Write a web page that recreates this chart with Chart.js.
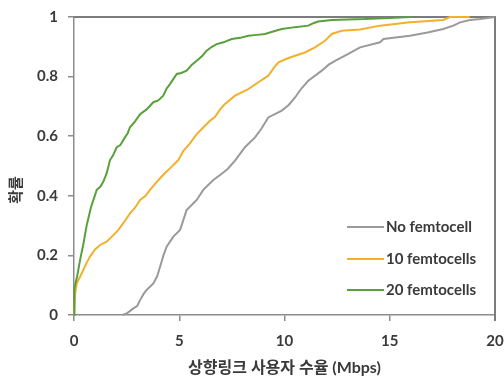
<!DOCTYPE html>
<html>
<head>
<meta charset="utf-8">
<script src="https://cdn.jsdelivr.net/npm/chart.js@4/dist/chart.umd.min.js"></script>
<style>
  html, body { margin: 0; padding: 0; background: #ffffff; }
  #wrap { width: 504px; height: 382px; position: relative; }
</style>
</head>
<body>
<div id="wrap"><canvas id="c"></canvas></div>
<script>
// ---- data ----
const seriesLabels = ['No femtocell', '10 femtocells', '20 femtocells'];
const seriesColors = ['#9a9a9a', '#f2b02c', '#58a03c'];

const noFemtoX = [2.3, 2.5, 2.82, 3.0, 3.14, 3.3, 3.45, 3.77, 3.95, 4.09, 4.25, 4.4, 4.72, 5.04, 5.2, 5.35, 5.6, 5.83, 6.14, 6.62, 6.94, 7.3, 7.65, 8.12, 8.6, 8.9, 9.23, 9.87, 10.2, 10.5, 10.8, 11.13, 11.77, 12.1, 12.4, 13.03, 13.59, 14.54, 14.7, 15.96, 16.8, 17.54, 18.02, 18.34, 18.81, 19.3, 20.0];
const noFemtoY = [0, 0.005, 0.022, 0.03, 0.05, 0.07, 0.084, 0.106, 0.13, 0.162, 0.2, 0.229, 0.263, 0.285, 0.32, 0.352, 0.37, 0.386, 0.42, 0.453, 0.47, 0.49, 0.518, 0.563, 0.596, 0.625, 0.663, 0.686, 0.705, 0.73, 0.76, 0.786, 0.82, 0.84, 0.853, 0.876, 0.898, 0.915, 0.926, 0.937, 0.948, 0.96, 0.971, 0.982, 0.99, 0.993, 1.0];

const femto10X = [0, 0.05, 0.13, 0.3, 0.44, 0.6, 0.76, 1.0, 1.24, 1.55, 1.87, 2.1, 2.34, 2.66, 2.9, 3.14, 3.4, 3.61, 3.85, 4.09, 4.3, 4.56, 4.96, 5.19, 5.5, 5.83, 6.15, 6.46, 6.7, 6.94, 7.17, 7.65, 8.28, 8.76, 9.23, 9.5, 9.71, 10.1, 10.5, 10.97, 11.45, 11.92, 12.24, 12.72, 13.59, 14.54, 15.96, 17.54, 17.86, 18.8];
const femto10Y = [0, 0.07, 0.106, 0.13, 0.151, 0.175, 0.196, 0.22, 0.235, 0.246, 0.268, 0.285, 0.308, 0.341, 0.36, 0.386, 0.40, 0.42, 0.44, 0.459, 0.475, 0.492, 0.52, 0.55, 0.575, 0.607, 0.63, 0.652, 0.665, 0.69, 0.708, 0.736, 0.758, 0.781, 0.803, 0.83, 0.848, 0.86, 0.87, 0.881, 0.898, 0.92, 0.943, 0.954, 0.958, 0.971, 0.982, 0.99, 1.0, 1.0];

const femto20X = [0, 0.02, 0.15, 0.29, 0.45, 0.6, 0.8, 1.08, 1.25, 1.39, 1.55, 1.71, 1.85, 2.03, 2.2, 2.42, 2.55, 2.66, 2.9, 3.14, 3.45, 3.77, 4.0, 4.24, 4.4, 4.56, 4.88, 5.1, 5.35, 5.6, 5.83, 6.1, 6.3, 6.55, 6.78, 7.1, 7.49, 7.9, 8.28, 8.7, 9.07, 9.5, 9.87, 10.5, 11.13, 11.4, 11.6, 12.24, 13.0, 13.8, 15.0, 16.0];
const femto20Y = [0, 0.09, 0.13, 0.185, 0.24, 0.30, 0.36, 0.42, 0.43, 0.447, 0.475, 0.52, 0.535, 0.563, 0.57, 0.596, 0.61, 0.63, 0.65, 0.674, 0.69, 0.714, 0.72, 0.736, 0.76, 0.775, 0.809, 0.812, 0.82, 0.84, 0.853, 0.87, 0.887, 0.9, 0.909, 0.915, 0.926, 0.93, 0.937, 0.94, 0.943, 0.952, 0.96, 0.966, 0.971, 0.98, 0.985, 0.99, 0.992, 0.993, 0.997, 1.0];

const xTicks = [0, 5, 10, 15, 20];
const yTicks = [0, 0.2, 0.4, 0.6, 0.8, 1];
const yTickLabels = ['0', '0.2', '0.4', '0.6', '0.8', '1'];
const xTitle = '상향링크 사용자 수율 (Mbps)';
const yTitle = '확률';

// ---- build ----
function pts(xs, ys) { return xs.map((x, i) => ({ x: x, y: ys[i] })); }
const allX = [noFemtoX, femto10X, femto20X];
const allY = [noFemtoY, femto10Y, femto20Y];

const datasets = seriesLabels.map((lab, i) => ({
  label: lab,
  data: pts(allX[i], allY[i]),
  borderColor: seriesColors[i],
  backgroundColor: seriesColors[i],
  borderWidth: 2,
  pointRadius: 0,
  tension: 0,
  fill: false,
  clip: false
}));
datasets.reverse();

const tickFont = { family: 'Lato, "Liberation Sans", sans-serif', size: 15, weight: 'bold' };
const textColor = '#3a3a3a';

const framePlugin = {
  id: 'frame',
  beforeDatasetsDraw(chart) {
    const { ctx, chartArea: a } = chart;
    ctx.save();
    ctx.strokeStyle = '#7c7c7c';
    ctx.lineWidth = 2;
    ctx.beginPath();
    ctx.moveTo(a.left, a.top);
    ctx.lineTo(a.right, a.top);
    ctx.lineTo(a.right, a.bottom + 6);
    ctx.stroke();
    ctx.restore();
  },
  afterDraw(chart) {
    const { ctx } = chart;
    ctx.save();
    ctx.translate(15, 190);
    ctx.rotate(-Math.PI / 2);
    ctx.font = 'bold 15px "Noto Sans CJK KR", sans-serif';
    ctx.fillStyle = textColor;
    ctx.textAlign = 'center';
    ctx.textBaseline = 'middle';
    ctx.fillText(yTitle, 0, 0);
    ctx.restore();

    ctx.save();
    ctx.font = 'bold 15px Lato, sans-serif';
    ctx.textBaseline = 'middle';
    ctx.textAlign = 'left';
    const rows = [227, 259, 290];
    seriesLabels.forEach((lab, i) => {
      const y = rows[i];
      ctx.strokeStyle = seriesColors[i];
      ctx.lineWidth = 2;
      ctx.beginPath();
      ctx.moveTo(347, y);
      ctx.lineTo(384, y);
      ctx.stroke();
      ctx.fillStyle = textColor;
      ctx.fillText(lab, 386, y);
    });
    ctx.restore();
  }
};

new Chart(document.getElementById('c'), {
  type: 'line',
  data: { datasets: datasets },
  plugins: [framePlugin],
  options: {
    responsive: true,
    maintainAspectRatio: false,
    animation: false,
    layout: { padding: { top: 17, right: 9, left: 0, bottom: 0 } },
    plugins: {
      legend: { display: false },
      tooltip: { enabled: false }
    },
    scales: {
      x: {
        type: 'linear',
        min: 0, max: 20,
        afterBuildTicks(scale) { scale.ticks = xTicks.map(v => ({ value: v })); },
        afterFit(scale) { scale.height = 67; scale.paddingLeft = 0; scale.paddingRight = 0; },
        ticks: { font: tickFont, color: textColor, padding: 11, maxRotation: 0 },
        grid: { display: true, drawOnChartArea: false, drawTicks: true, tickLength: 6, color: '#8c8c8c', lineWidth: 1.5 },
        border: { display: true, color: '#8c8c8c', width: 1.5 },
        title: {
          display: true, text: xTitle, color: textColor,
          font: { family: 'Lato, "Noto Sans CJK KR", sans-serif', size: 16, weight: 'bold' },
          padding: { top: 0, bottom: 5 }
        }
      },
      y: {
        type: 'linear',
        min: 0, max: 1,
        afterBuildTicks(scale) { scale.ticks = yTicks.map(v => ({ value: v })); },
        afterFit(scale) { scale.width = 74; scale.paddingTop = 0; scale.paddingBottom = 0; },
        ticks: {
          font: tickFont, color: textColor, padding: 10,
          callback: (v) => { const k = yTicks.indexOf(v); return k >= 0 ? yTickLabels[k] : ''; }
        },
        grid: { display: true, drawOnChartArea: false, drawTicks: true, tickLength: 6, color: '#8c8c8c', lineWidth: 1.5 },
        border: { display: true, color: '#8c8c8c', width: 1.5 }
      }
    }
  }
});
</script>
</body>
</html>
